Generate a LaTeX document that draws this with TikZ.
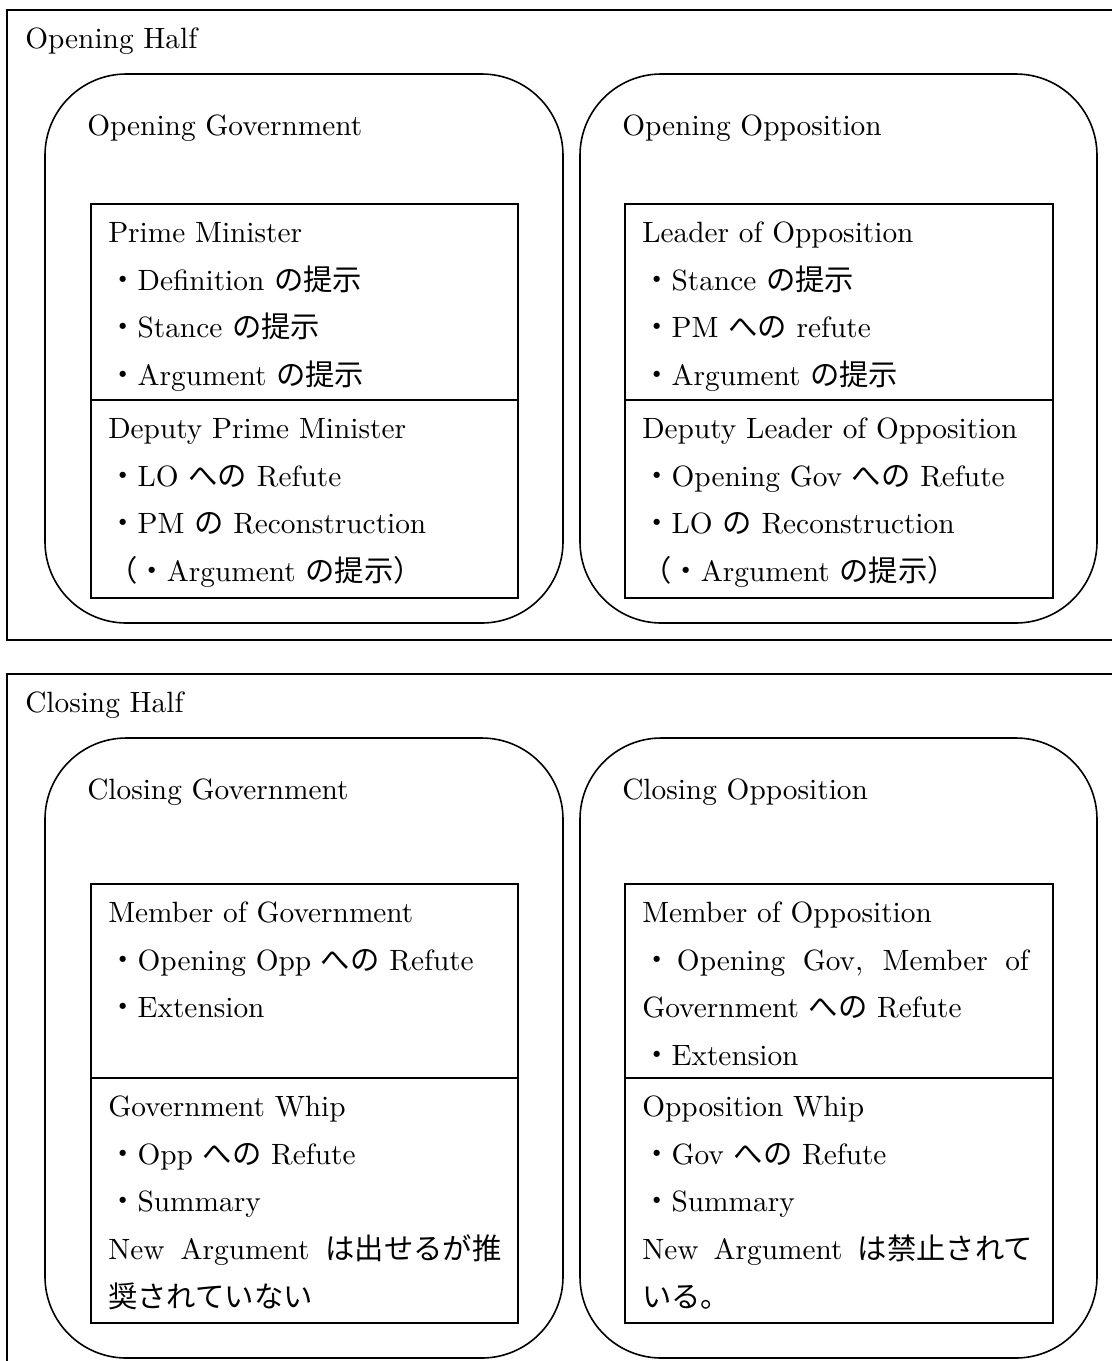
\documentclass[tikz,border=0pt]{standalone}
\usepackage{fontspec}
\usepackage{tikz}
\usetikzlibrary{positioning}
\setmainfont{lmroman10-regular}[Extension=.otf]
\newfontfamily\jpfont{Noto Sans CJK JP}
\newcommand{\jp}[1]{{\jpfont #1}}
\newcommand{\mainsize}{\fontsize{22pt}{35.8pt}\selectfont}
\newcommand{\topgap}{\rule{0pt}{28.5pt}}

\begin{document}
\begin{tikzpicture}[
    x=0.75pt, y=-0.75pt,
    half/.style={draw, line width=1.3pt},
    team/.style={draw, line width=1.2pt, rounded corners=61pt},
    role/.style={draw, line width=1.2pt},
    title/.style={anchor=base west, inner sep=0pt, font=\mainsize},
    speech/.style={anchor=north west, inner sep=0pt, align=left, font=\mainsize}
]
\useasboundingbox (0,0) rectangle (1112,1361);

% Opening Half
\draw[half] (7,10) rectangle (1130,640);
\node[title] (openhalf) at (25,48) {Opening Half};

\draw[team] (45,74) rectangle (563,623);
\node[title] (opengov) at (87,135) {Opening Government};
\draw[team] (580,74) rectangle (1097,623);
\node[title] (openopp) at (622,135) {Opening Opposition};

% Opening Government speakers
\draw[role] (91,204) rectangle (518,400);
\draw[role] (91,400) rectangle (518,598);
\node[speech] (pm) at (108,204) {\topgap Prime Minister\\
  \jp{・}Definition \jp{の提示}\\
  \jp{・}Stance \jp{の提示}\\
  \jp{・}Argument \jp{の提示}};
\node[speech] (dpm) at (108,400) {\topgap Deputy Prime Minister\\
  \jp{・}LO \jp{への} Refute\\
  \jp{・}PM \jp{の} Reconstruction\\
  \jp{（・}Argument \jp{の提示）}};

% Opening Opposition speakers
\draw[role] (625,204) rectangle (1053,400);
\draw[role] (625,400) rectangle (1053,598);
\node[speech] (lo) at (642,204) {\topgap Leader of Opposition\\
  \jp{・}Stance \jp{の提示}\\
  \jp{・}PM \jp{への} refute\\
  \jp{・}Argument \jp{の提示}};
\node[speech] (dlo) at (642,400) {\topgap Deputy Leader of Opposition\\
  \jp{・}Opening Gov \jp{への} Refute\\
  \jp{・}LO \jp{の} Reconstruction\\
  \jp{（・}Argument \jp{の提示）}};

% Closing Half
\draw[half] (7,674) rectangle (1130,1380);
\node[title] (closehalf) at (25,712) {Closing Half};

\draw[team] (45,738) rectangle (563,1358);
\node[title] (closegov) at (87,799) {Closing Government};
\draw[team] (580,738) rectangle (1097,1358);
\node[title] (closeopp) at (622,799) {Closing Opposition};

% Closing Government speakers
\draw[role] (91,884) rectangle (518,1078);
\draw[role] (91,1078) rectangle (518,1323);
\node[speech] (mg) at (108,884) {\topgap Member of Government\\
  \jp{・}Opening Opp \jp{への} Refute\\
  \jp{・}Extension};
\node[speech] (gw) at (108,1078) {\topgap Government Whip\\
  \jp{・}Opp \jp{への} Refute\\
  \jp{・}Summary\\
  \makebox[295pt][s]{New Argument \jp{は出せるが推}}\\
  \jp{奨されていない}};

% Closing Opposition speakers
\draw[role] (625,884) rectangle (1053,1078);
\draw[role] (625,1078) rectangle (1053,1323);
\node[speech] (mo) at (642,884) {\topgap Member of Opposition\\
  \makebox[290pt][s]{\jp{・}\hspace{4pt}Opening Gov, Member of}\\
  Government \jp{への} Refute\\
  \jp{・}Extension};
\node[speech] (ow) at (642,1078) {\topgap Opposition Whip\\
  \jp{・}Gov \jp{への} Refute\\
  \jp{・}Summary\\
  \makebox[293pt][s]{New Argument \jp{は禁止されて}}\\
  \jp{いる。}};

\end{tikzpicture}
\end{document}
